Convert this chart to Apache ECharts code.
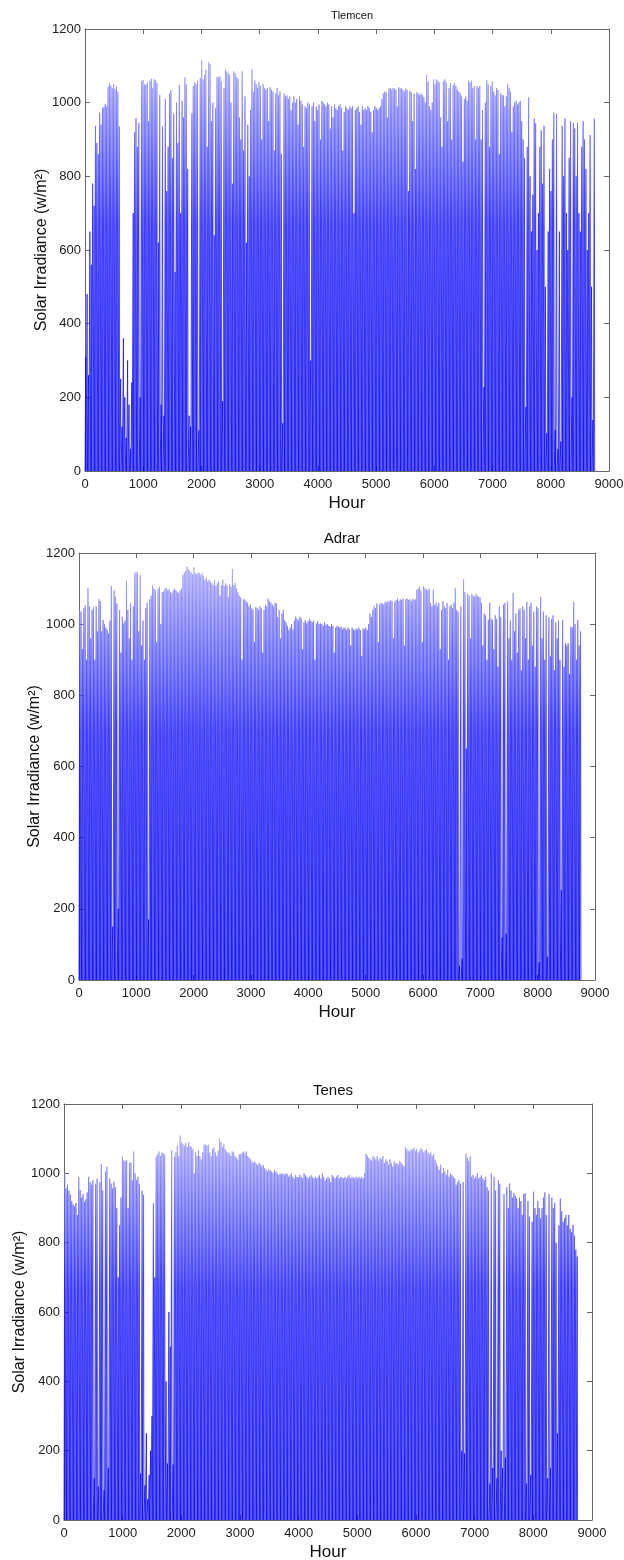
<!DOCTYPE html>
<html><head><meta charset="utf-8">
<script src="https://cdn.jsdelivr.net/npm/echarts@6/dist/echarts.min.js"></script>
<style>html,body{margin:0;padding:0;background:#fff}#c{width:624px;height:1560px}</style>
</head><body><div id="c"></div>
<script>
// Daily peak solar irradiance (W/m²), one value per day of the year (365 days).
var tlemcenDailyPeak = [
310,480,260,650,560,780,720,937,890,860,
973,940,985,988,997,990,1043,1053,1046,1040,
1050,1037,1045,1030,935,250,120,360,200,90,
300,180,60,240,700,920,958,880,945,200,
1058,1062,1050,1048,1055,950,1060,1065,1040,1063,
1060,1053,620,1021,180,935,150,1010,760,880,
1025,1034,850,970,540,1000,890,1048,700,1005,
960,1069,1050,820,150,120,971,1045,1055,1050,
1060,110,1067,1116,1063,1075,1090,880,1110,1105,
950,1000,640,985,1070,1068,1072,1057,190,1040,
1090,1085,1080,1075,1000,780,1085,1080,1070,1065,
960,900,1085,870,1017,620,940,800,980,1091,
1030,1060,1050,1040,1055,1045,900,1050,1040,1035,
1040,950,1042,1035,1030,870,1025,1040,1020,1030,
860,130,1025,1017,1020,1010,1017,980,1000,1017,
1000,1010,940,1017,1005,995,880,990,985,1000,
995,300,990,1000,950,990,980,995,900,1005,
1000,995,990,1000,995,930,990,960,995,985,
980,990,995,985,870,975,990,985,980,990,
985,990,700,980,985,990,975,940,990,980,
985,980,990,985,975,920,980,990,985,980,
985,990,1010,1025,1030,1028,960,1038,1040,1035,
1040,1038,1035,990,1042,1038,1040,1035,1030,1038,
1035,760,1032,1028,950,1025,820,1028,1025,1020,
1025,1020,1015,1000,1075,1057,990,980,1000,1063,
1050,1063,1060,1055,960,880,1058,1063,1055,950,
1040,1053,900,1048,1053,1045,1035,1030,1025,1017,
840,1010,1017,1005,1060,1055,1060,1040,1045,900,
1045,1040,1045,900,980,228,1000,1062,1050,880,
1045,1058,1030,1020,1040,1035,860,1025,1020,1020,
990,1017,1050,1040,1030,920,990,1000,1005,995,
1000,1005,950,900,850,174,880,1015,800,650,
750,957,944,600,700,880,925,780,937,500,
103,650,820,760,900,973,111,970,60,650,
80,937,800,957,700,600,850,950,200,945,
930,800,945,700,650,880,950,900,820,600,
700,912,500,138,957];

var adrarDailyPeak = [
1040,1035,930,1045,1053,900,1101,1050,960,1040,
1048,900,1050,980,1070,1065,980,1012,1000,990,
983,974,1010,1107,150,1095,1077,1058,200,1040,
920,1021,1002,1010,1122,1040,960,1058,900,1050,
1143,1147,1145,980,1138,940,1010,900,1045,1060,
170,1070,1080,1109,1100,1095,950,1100,1105,1000,
1090,1092,1100,1101,1095,1098,1090,1087,1095,1100,
1095,1090,1087,1095,1100,1138,1145,1150,1162,1155,
1150,1145,1140,1160,1143,1140,1145,1143,1138,1143,
1135,1125,1130,1120,1125,1120,1115,1110,1125,1107,
1115,1120,1080,1110,1125,1107,1115,1110,1076,1112,
1105,1155,1110,1116,1100,1090,1080,1075,900,1070,
1069,1065,1060,1050,1055,1045,1040,950,1048,1045,
1040,1050,1045,920,1040,1055,1050,1072,1065,1060,
1055,1050,1060,1058,1020,1040,960,1030,1040,1012,
1005,995,983,990,1000,985,1010,1021,1015,1010,
1021,1015,930,1005,1012,1002,1008,1015,1010,1005,
1010,900,1002,1008,1000,1002,1000,995,1005,998,
1000,995,993,1000,995,920,990,995,993,990,
993,985,990,988,983,990,985,940,990,985,
983,988,985,990,983,910,988,985,990,983,
1000,1030,1020,1040,1050,1045,1058,950,1055,1060,
1058,1055,1063,1060,1065,1063,1068,1065,960,1063,
1068,1072,1065,1070,1068,1072,940,1070,1072,1068,
1070,1065,1072,1068,1070,1097,1100,1106,1095,950,
1106,1100,1097,1095,1100,1060,1050,1097,1055,1060,
1050,1060,930,1040,1065,1050,1045,1060,900,1050,
1055,1045,1060,1101,1040,1035,40,1050,60,1126,
1090,650,1085,1080,960,1085,1080,1077,1085,1080,
1077,1075,1060,940,1030,1025,900,1012,1060,1015,
1012,930,1025,1015,880,1050,1020,120,1055,1060,
130,1063,960,1010,900,1088,980,1030,920,1040,
1045,870,1050,1040,960,1063,900,1050,1060,940,
1035,880,1050,1045,50,1077,960,1035,900,1025,
65,1020,910,1015,1025,870,1005,960,1010,900,
253,1012,880,946,940,946,860,993,990,1063,
1000,900,1012,940,980];

var tenesDailyPeak = [
1000,957,967,950,938,920,910,904,915,880,
990,952,930,940,918,925,945,990,975,967,
980,120,970,985,96,975,1026,950,87,1005,
1019,150,985,970,957,975,960,900,700,850,
930,1048,1038,1035,1038,900,1030,1032,980,1063,
1000,980,990,970,134,950,938,100,250,60,
130,200,300,913,700,1048,1055,1063,1050,1060,
1058,1055,400,163,600,500,1067,160,1048,1060,
1080,1050,1109,1090,1085,1080,1088,1076,1090,1080,
1076,1070,1000,1060,1050,1067,1050,1040,1060,1083,
1083,1080,1083,1060,1050,1070,1075,1060,1050,1065,
1100,1090,1076,1085,1070,1063,1060,1058,1050,1063,
1060,1050,1045,1040,1055,1055,1060,1063,1058,1063,
1050,1045,1040,1034,1030,1034,1028,1024,1030,1025,
1020,1024,1015,1010,1005,1012,1008,1005,1000,1010,
1005,1000,995,1000,998,1000,995,1000,998,990,
995,1000,990,985,995,990,988,995,990,985,
1000,995,990,985,990,995,988,985,990,985,
990,995,985,1000,990,980,985,990,985,975,
995,990,985,990,995,985,990,988,985,990,
985,990,995,985,990,988,985,990,985,990,
985,990,985,1000,1057,1050,1045,1040,1036,1050,
1045,1040,1050,1036,1045,1040,1050,1030,1040,1035,
1025,1040,1030,1020,1035,1028,1030,1025,1035,1030,
1025,1020,1076,1070,1065,1063,1070,1068,1075,1065,
1070,1060,1065,1072,1068,1060,1065,1070,1060,1055,
1060,1050,1055,1040,1030,1020,1010,1025,1000,1015,
1005,995,1010,990,1000,995,990,985,967,975,
980,970,200,975,192,1057,1045,1036,1050,990,
995,985,990,1000,985,990,995,985,980,990,
960,950,105,1000,150,990,950,120,980,970,
200,150,940,180,960,900,971,950,930,943,
935,927,900,930,920,880,940,943,105,920,
875,130,860,947,900,880,920,900,870,900,
930,945,880,120,940,150,930,900,915,800,
250,850,927,890,860,870,880,850,880,840,
830,851,820,780,760];

var siteNames = ['Tlemcen', 'Adrar', 'Tenes'];
var xTicks = [0,1000,2000,3000,4000,5000,6000,7000,8000,9000];
var yTicks = [0,200,400,600,800,1000,1200];
var yTitle = 'Solar Irradiance (w/m\u00B2)';
var xTitle = 'Hour';

function hourly(peaks) {
  var pts = [[0, 0]];
  for (var d = 0; d < peaks.length; d++) {
    var h = d * 24;
    pts.push([h + 6, 0]);
    pts.push([h + 12, peaks[d]]);
    pts.push([h + 18, 0]);
  }
  pts.push([8760, 0]);
  return pts;
}

var allPeaks = [tlemcenDailyPeak, adrarDailyPeak, tenesDailyPeak];
var grids = [
  {left: 85, top: 29, width: 524, height: 442},
  {left: 79, top: 553, width: 516, height: 427},
  {left: 64, top: 1104, width: 528, height: 416}
];
var titleSizes = [11, 15, 15];
var titleTops = [5, 526, 1078];
var yNameGaps = [35, 36, 36];

var FONT = 'Arial, "Liberation Sans", sans-serif';
var axisColor = '#666';

var lineGradient = new echarts.graphic.LinearGradient(0, 0, 0, 1, [
  {offset: 0, color: '#a8a8ff'},
  {offset: 0.15, color: '#7070ff'},
  {offset: 0.4, color: '#1c1cff'},
  {offset: 1, color: '#0000f0'}
]);

var option = {
  animation: false,
  backgroundColor: '#fff',
  title: [], grid: [], xAxis: [], yAxis: [], series: []
};

grids.forEach(function (g, i) {
  option.grid.push({left: g.left, top: g.top, width: g.width, height: g.height,
    containLabel: false, outerBoundsMode: 'none'});
  option.title.push({
    text: siteNames[i], left: g.left + g.width / 2, top: titleTops[i], textAlign: 'center',
    textStyle: {fontFamily: FONT, fontSize: titleSizes[i], fontWeight: 'normal', color: '#111'}
  });
  var common = {
    type: 'value', gridIndex: i, min: 0, max: 9000, interval: 1000,
    axisLine: {show: true, onZero: false, lineStyle: {color: axisColor, width: 1}},
    axisTick: {show: true, inside: true, length: 5, lineStyle: {color: axisColor}},
    splitLine: {show: false}
  };
  option.xAxis.push(Object.assign({}, common, {
    position: 'bottom',
    name: xTitle, nameLocation: 'middle', nameGap: 24, nameMoveOverlap: false,
    nameTextStyle: {fontFamily: FONT, fontSize: 17, color: '#111'},
    axisLabel: {show: true, margin: 7, fontFamily: FONT, fontSize: 13, color: '#222',
      formatter: function (v) { return xTicks.indexOf(v) >= 0 ? String(v) : ''; }}
  }));
  option.xAxis.push(Object.assign({}, common, {position: 'top', axisLabel: {show: false}}));
  var ycommon = {
    type: 'value', gridIndex: i, min: 0, max: 1200, interval: 200,
    axisLine: {show: true, onZero: false, lineStyle: {color: axisColor, width: 1}},
    axisTick: {show: true, inside: true, length: 5, lineStyle: {color: axisColor}},
    splitLine: {show: false}
  };
  option.yAxis.push(Object.assign({}, ycommon, {
    position: 'left',
    name: yTitle, nameLocation: 'middle', nameGap: yNameGaps[i], nameRotate: 90,
    nameMoveOverlap: false,
    nameTextStyle: {fontFamily: FONT, fontSize: 16, color: '#111'},
    axisLabel: {show: true, margin: 4, fontFamily: FONT, fontSize: 13, color: '#222',
      formatter: function (v) { return yTicks.indexOf(v) >= 0 ? String(v) : ''; }}
  }));
  option.yAxis.push(Object.assign({}, ycommon, {position: 'right', axisLabel: {show: false}}));
  option.series.push({
    type: 'line', xAxisIndex: i * 2, yAxisIndex: i * 2,
    data: hourly(allPeaks[i]), symbol: 'none', silent: true, sampling: null,
    lineStyle: {color: lineGradient, width: 0.75}, z: 1
  });
});

var chart = echarts.init(document.getElementById('c'), null, {renderer: 'canvas'});
chart.setOption(option);
</script></body></html>
